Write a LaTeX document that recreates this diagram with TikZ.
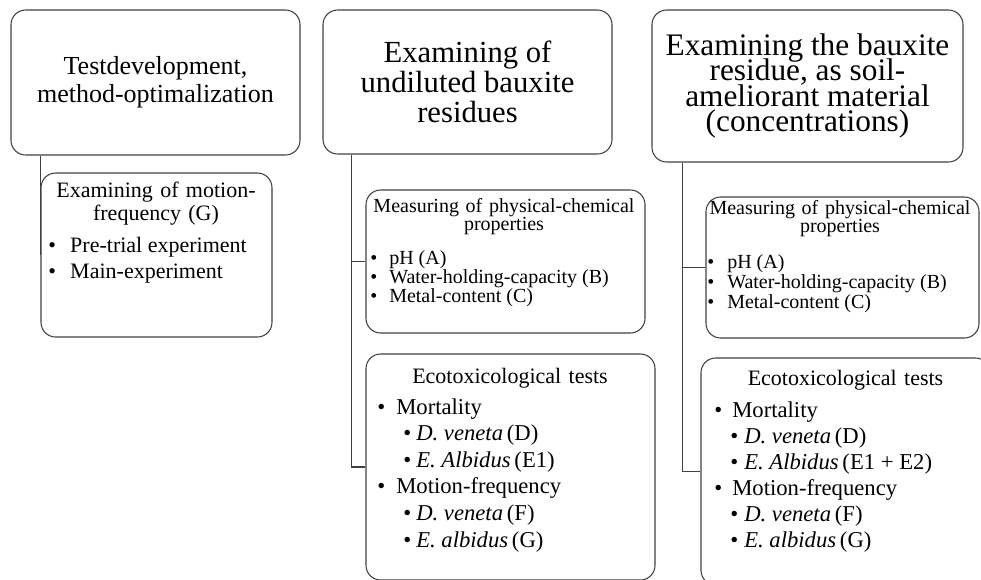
\documentclass[tikz,border=0pt]{standalone}
\usepackage{fontspec}
\setmainfont{Liberation Serif}
\usetikzlibrary{calc}

\newcommand{\fs}[2]{\fontsize{#1}{#2}\selectfont\lineskiplimit=-100pt\lineskip=0pt}
\newcommand{\itm}[2]{\makebox[#1][l]{\textbullet}#2}

\begin{document}
\begin{tikzpicture}[
		x=0.75pt, y=-0.75pt,
		box/.style={draw=black!75, line width=0.8pt, rounded corners=11pt, inner sep=0pt, align=center},
		link/.style={draw=black!75, line width=0.8pt},
		head/.style={inner sep=0pt, anchor=base, text width=210pt, align=center},
		line/.style={inner sep=0pt, anchor=base west}
	]
		\useasboundingbox (0,0) rectangle (981,579);

		%top boxes
		\node[box, minimum width=216.75pt, minimum height=108.75pt, font=\fs{19.5}{21}] (b1) at (155.5,82.5) {Testdevelopment,\\method-optimalization};
		\node[box, minimum width=216.75pt, minimum height=108pt, font=\fs{23}{22.5}] (b2) at (467.5,82) {Examining of\\undiluted bauxite\\residues};
		\node[box, minimum width=233.25pt, minimum height=114pt, font=\fs{23.5}{19}] (b3) at (807.5,86) {Examining the bauxite\\residue, as soil-\\ameliorant material\\(concentrations)};

		%sub boxes
		\node[box, minimum width=173.25pt, minimum height=123pt] (c1) at (156.5,255) {};
		\node[box, minimum width=209.25pt, minimum height=107.25pt] (c2a) at (505.5,261.5) {};
		\node[box, minimum width=216.75pt, minimum height=169.5pt] (c2b) at (510.5,467) {};
		\node[box, minimum width=204.75pt, minimum height=105.75pt] (c3a) at (842.5,267.5) {};
		\node[box, minimum width=216.75pt, minimum height=170.25pt] (c3b) at (845.5,471.5) {};

		%connectors
		\coordinate (j1) at ($(b1.south west)+(30,0)$);
		\coordinate (j2) at ($(b2.south west)+(29,0)$);
		\coordinate (j3) at ($(b3.south west)+(31,0)$);
		\draw[link] (j1) |- (c1.west);
		\draw[link] (j2) |- (c2a.west);
		\draw[link] (j2) |- (c2b.west);
		\draw[link] (j3) |- (c3a.west);
		\draw[link] (j3) |- (c3b.west);

		%motion-frequency
		\node[head, font=\fs{16.5}{17.25}] (c1h) at (156,197) {Examining of motion-\\frequency (G)};
		\foreach \t [count=\i from 0] in {Pre-trial experiment, Main-experiment}
			\node[line, font=\fs{16.5}{18}] (c1l\i) at (48,252+26*\i) {\itm{16.5pt}{\t}};

		%physical-chemical properties
		\node[head, font=\fs{15}{13.5}] (c2ah) at (504,212) {Measuring of physical-chemical\\properties};
		\node[head, font=\fs{15}{13.5}] (c3ah) at (840,214) {Measuring of physical-chemical\\properties};
		\foreach \t [count=\i from 0] in {pH (A), Water-holding-capacity (B), Metal-content (C)} {
			\node[line, font=\fs{15}{16}] (c2al\i) at (370,264+19*\i) {\itm{14.25pt}{\t}};
			\node[line, font=\fs{15}{16}] (c3al\i) at (707,268+20*\i) {\itm{15pt}{\t}};
		}

		%ecotoxicological tests
		\node[head, font=\fs{16.5}{18}] (c2bh) at (510,383) {Ecotoxicological tests};
		\node[head, font=\fs{16.5}{18}] (c3bh) at (845.5,385) {Ecotoxicological tests};
		\foreach \dx/\w/\t [count=\i from 0] in {0/14.25pt/Mortality, 26/9.75pt/{\textit{D. veneta}\,(D)}, 26/9.75pt/{\textit{E. Albidus}\,(E1)},
				0/14.25pt/Motion-frequency, 26/9.75pt/{\textit{D. veneta}\,(F)}, 26/9.75pt/{\textit{E. albidus}\,(G)}}
			\node[line, font=\fs{17}{18}] (c2bl\i) at (377+\dx,414+26.6*\i) {\itm{\w}{\t}};
		\foreach \dx/\w/\t [count=\i from 0] in {0/13.5pt/Mortality, 16/10.5pt/{\textit{D. veneta}\,(D)}, 16/10.5pt/{\textit{E. Albidus}\,(E1 + E2)},
				0/13.5pt/Motion-frequency, 16/10.5pt/{\textit{D. veneta}\,(F)}, 16/10.5pt/{\textit{E. albidus}\,(G)}}
			\node[line, font=\fs{17}{18}] (c3bl\i) at (714+\dx,417+26*\i) {\itm{\w}{\t}};
	\end{tikzpicture}
\end{document}
